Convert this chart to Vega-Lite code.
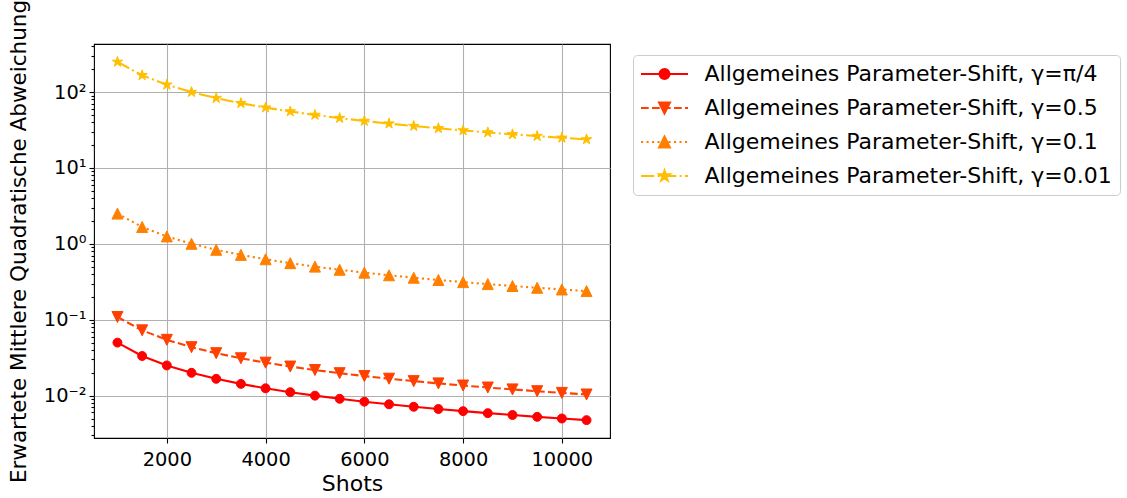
{
  "$schema": "https://vega.github.io/schema/vega-lite/v6.json",
  "width": 516,
  "height": 394,
  "autosize": {"type": "none"},
  "padding": {"left": 94, "top": 44, "right": 517, "bottom": 60},
  "background": "white",
  "config": {
    "view": {"stroke": "black", "strokeWidth": 1.1},
    "font": "DejaVu Sans",
    "axis": {
      "domain": false,
      "tickColor": "black",
      "tickWidth": 1.1,
      "labelColor": "black",
      "titleColor": "black",
      "labelFont": "DejaVu Sans",
      "titleFont": "DejaVu Sans",
      "labelFontSize": 19.4,
      "titleFontSize": 22,
      "titleFontWeight": "normal",
      "gridColor": "#b0b0b0",
      "gridWidth": 1.1
    },
    "legend": {
      "orient": "none",
      "legendX": 539,
      "legendY": 11,
      "padding": 8,
      "strokeColor": "#cccccc",
      "fillColor": "white",
      "cornerRadius": 4,
      "labelFont": "DejaVu Sans",
      "labelFontSize": 22,
      "labelColor": "black",
      "labelLimit": 1000,
      "rowPadding": 12,
      "symbolSize": 100,
      "symbolStrokeWidth": 2,
      "symbolOpacity": 1,
      "symbolOffset": 12.5,
      "labelOffset": 29
    }
  },
  "data": {
    "values": [
      {"shots": 1000, "mse": 0.05, "gamma": "π/4"},
      {"shots": 1500, "mse": 0.03333, "gamma": "π/4"},
      {"shots": 2000, "mse": 0.025, "gamma": "π/4"},
      {"shots": 2500, "mse": 0.02, "gamma": "π/4"},
      {"shots": 3000, "mse": 0.01667, "gamma": "π/4"},
      {"shots": 3500, "mse": 0.01429, "gamma": "π/4"},
      {"shots": 4000, "mse": 0.0125, "gamma": "π/4"},
      {"shots": 4500, "mse": 0.01111, "gamma": "π/4"},
      {"shots": 5000, "mse": 0.01, "gamma": "π/4"},
      {"shots": 5500, "mse": 0.00909, "gamma": "π/4"},
      {"shots": 6000, "mse": 0.00833, "gamma": "π/4"},
      {"shots": 6500, "mse": 0.00769, "gamma": "π/4"},
      {"shots": 7000, "mse": 0.00714, "gamma": "π/4"},
      {"shots": 7500, "mse": 0.00667, "gamma": "π/4"},
      {"shots": 8000, "mse": 0.00625, "gamma": "π/4"},
      {"shots": 8500, "mse": 0.00588, "gamma": "π/4"},
      {"shots": 9000, "mse": 0.00556, "gamma": "π/4"},
      {"shots": 9500, "mse": 0.00526, "gamma": "π/4"},
      {"shots": 10000, "mse": 0.005, "gamma": "π/4"},
      {"shots": 10500, "mse": 0.00476, "gamma": "π/4"},
      {"shots": 1000, "mse": 0.1088, "gamma": "0.5"},
      {"shots": 1500, "mse": 0.07253, "gamma": "0.5"},
      {"shots": 2000, "mse": 0.0544, "gamma": "0.5"},
      {"shots": 2500, "mse": 0.04352, "gamma": "0.5"},
      {"shots": 3000, "mse": 0.03627, "gamma": "0.5"},
      {"shots": 3500, "mse": 0.03109, "gamma": "0.5"},
      {"shots": 4000, "mse": 0.0272, "gamma": "0.5"},
      {"shots": 4500, "mse": 0.02418, "gamma": "0.5"},
      {"shots": 5000, "mse": 0.02176, "gamma": "0.5"},
      {"shots": 5500, "mse": 0.01978, "gamma": "0.5"},
      {"shots": 6000, "mse": 0.01813, "gamma": "0.5"},
      {"shots": 6500, "mse": 0.01674, "gamma": "0.5"},
      {"shots": 7000, "mse": 0.01554, "gamma": "0.5"},
      {"shots": 7500, "mse": 0.01451, "gamma": "0.5"},
      {"shots": 8000, "mse": 0.0136, "gamma": "0.5"},
      {"shots": 8500, "mse": 0.0128, "gamma": "0.5"},
      {"shots": 9000, "mse": 0.01209, "gamma": "0.5"},
      {"shots": 9500, "mse": 0.01145, "gamma": "0.5"},
      {"shots": 10000, "mse": 0.01088, "gamma": "0.5"},
      {"shots": 10500, "mse": 0.01036, "gamma": "0.5"},
      {"shots": 1000, "mse": 2.508, "gamma": "0.1"},
      {"shots": 1500, "mse": 1.672, "gamma": "0.1"},
      {"shots": 2000, "mse": 1.254, "gamma": "0.1"},
      {"shots": 2500, "mse": 1.0032, "gamma": "0.1"},
      {"shots": 3000, "mse": 0.836, "gamma": "0.1"},
      {"shots": 3500, "mse": 0.7166, "gamma": "0.1"},
      {"shots": 4000, "mse": 0.627, "gamma": "0.1"},
      {"shots": 4500, "mse": 0.5573, "gamma": "0.1"},
      {"shots": 5000, "mse": 0.5016, "gamma": "0.1"},
      {"shots": 5500, "mse": 0.456, "gamma": "0.1"},
      {"shots": 6000, "mse": 0.418, "gamma": "0.1"},
      {"shots": 6500, "mse": 0.3858, "gamma": "0.1"},
      {"shots": 7000, "mse": 0.3583, "gamma": "0.1"},
      {"shots": 7500, "mse": 0.3344, "gamma": "0.1"},
      {"shots": 8000, "mse": 0.3135, "gamma": "0.1"},
      {"shots": 8500, "mse": 0.2951, "gamma": "0.1"},
      {"shots": 9000, "mse": 0.2787, "gamma": "0.1"},
      {"shots": 9500, "mse": 0.264, "gamma": "0.1"},
      {"shots": 10000, "mse": 0.2508, "gamma": "0.1"},
      {"shots": 10500, "mse": 0.2389, "gamma": "0.1"},
      {"shots": 1000, "mse": 250.0, "gamma": "0.01"},
      {"shots": 1500, "mse": 166.67, "gamma": "0.01"},
      {"shots": 2000, "mse": 125.0, "gamma": "0.01"},
      {"shots": 2500, "mse": 100.0, "gamma": "0.01"},
      {"shots": 3000, "mse": 83.33, "gamma": "0.01"},
      {"shots": 3500, "mse": 71.43, "gamma": "0.01"},
      {"shots": 4000, "mse": 62.5, "gamma": "0.01"},
      {"shots": 4500, "mse": 55.56, "gamma": "0.01"},
      {"shots": 5000, "mse": 50.0, "gamma": "0.01"},
      {"shots": 5500, "mse": 45.45, "gamma": "0.01"},
      {"shots": 6000, "mse": 41.67, "gamma": "0.01"},
      {"shots": 6500, "mse": 38.46, "gamma": "0.01"},
      {"shots": 7000, "mse": 35.71, "gamma": "0.01"},
      {"shots": 7500, "mse": 33.33, "gamma": "0.01"},
      {"shots": 8000, "mse": 31.25, "gamma": "0.01"},
      {"shots": 8500, "mse": 29.41, "gamma": "0.01"},
      {"shots": 9000, "mse": 27.78, "gamma": "0.01"},
      {"shots": 9500, "mse": 26.32, "gamma": "0.01"},
      {"shots": 10000, "mse": 25.0, "gamma": "0.01"},
      {"shots": 10500, "mse": 23.81, "gamma": "0.01"}
    ]
  },
  "encoding": {
    "x": {
      "field": "shots",
      "type": "quantitative",
      "scale": {"domain": [525, 10975], "nice": false, "zero": false},
      "axis": {
        "title": "Shots",
        "values": [2000, 4000, 6000, 8000, 10000],
        "format": "d",
        "tickSize": 5,
        "labelPadding": 7,
        "titlePadding": 5,
        "grid": true
      }
    },
    "y": {
      "field": "mse",
      "type": "quantitative",
      "scale": {"type": "log", "domain": [0.002767, 430.5], "nice": false},
      "axis": {
        "title": "Erwartete Mittlere Quadratische Abweichung",
        "titleFontSize": 21.5,
        "titlePadding": 13,
        "values": [0.003, 0.004, 0.005, 0.006, 0.007, 0.008, 0.009, 0.01, 0.02, 0.03, 0.04, 0.05, 0.06, 0.07, 0.08, 0.09, 0.1, 0.2, 0.3, 0.4, 0.5, 0.6, 0.7, 0.8, 0.9, 1, 2, 3, 4, 5, 6, 7, 8, 9, 10, 20, 30, 40, 50, 60, 70, 80, 90, 100, 200, 300, 400],
        "labelExpr": "abs(log(datum.value)/LN10 - round(log(datum.value)/LN10)) < 0.001 ? (datum.value < 0.05 ? '10⁻²' : datum.value < 0.5 ? '10⁻¹' : datum.value < 5 ? '10⁰' : datum.value < 50 ? '10¹' : '10²') : ''",
        "labelPadding": 3,
        "tickSize": {"condition": {"test": "abs(log(datum.value)/LN10 - round(log(datum.value)/LN10)) < 0.001", "value": 5}, "value": 3},
        "gridOpacity": {"condition": {"test": "abs(log(datum.value)/LN10 - round(log(datum.value)/LN10)) < 0.001", "value": 1}, "value": 0},
        "grid": true
      }
    }
  },
  "layer": [
    {
      "transform": [{"filter": {"field": "gamma", "equal": "π/4"}}],
      "layer": [
        {"mark": {"type": "line", "strokeWidth": 2.1, "color": "#ff0000"}},
        {"mark": {"type": "point", "shape": "circle", "filled": true, "size": 80, "color": "#ff0000", "stroke": "#ff0000", "strokeWidth": 1, "opacity": 1}}
      ]
    },
    {
      "transform": [{"filter": {"field": "gamma", "equal": "0.5"}}],
      "layer": [
        {"mark": {"type": "line", "strokeWidth": 2.1, "color": "#ff4000", "strokeDash": [7.7, 3.3]}},
        {"mark": {"type": "point", "shape": "M0,1L1,-1L-1,-1Z", "filled": true, "size": 121, "color": "#ff4000", "stroke": "#ff4000", "strokeWidth": 1, "opacity": 1}}
      ]
    },
    {
      "transform": [{"filter": {"field": "gamma", "equal": "0.1"}}],
      "layer": [
        {"mark": {"type": "line", "strokeWidth": 2.1, "color": "#ff8000", "strokeDash": [2.1, 3.4]}},
        {"mark": {"type": "point", "shape": "M0,-1L1,1L-1,1Z", "filled": true, "size": 121, "color": "#ff8000", "stroke": "#ff8000", "strokeWidth": 1, "opacity": 1}}
      ]
    },
    {
      "transform": [{"filter": {"field": "gamma", "equal": "0.01"}}],
      "layer": [
        {"mark": {"type": "line", "strokeWidth": 2.1, "color": "#ffbf00", "strokeDash": [13.3, 3.3, 2.1, 3.3]}},
        {"mark": {"type": "point", "shape": "M0,-1L0.2245,-0.309L0.951,-0.309L0.363,0.118L0.588,0.809L0,0.382L-0.588,0.809L-0.363,0.118L-0.951,-0.309L-0.2245,-0.309Z", "filled": true, "size": 121, "color": "#ffbf00", "stroke": "#ffbf00", "strokeWidth": 1, "opacity": 1}}
      ]
    },
    {
      "transform": [{"filter": "datum.shots < 0"}],
      "mark": {"type": "point", "filled": true, "strokeWidth": 2, "opacity": 1},
      "encoding": {
        "shape": {
          "field": "gamma",
          "type": "nominal",
          "scale": {"domain": ["π/4", "0.5", "0.1", "0.01"], "range": [
            "M-4.7,0H4.7M1,0A1,1 0 1,1 -1,0A1,1 0 1,1 1,0Z",
            "M-4.7,0H-3.16M-2.5,0H-0.96M-0.3,0H1.24M1.9,0H3.44M4.1,0H4.7M0,1.1L1.1,-1.1L-1.1,-1.1Z",
            "M-4.7,0H-4.28M-3.6,0H-3.18M-2.5,0H-2.08M-1.4,0H-0.98M-0.3,0H0.12M0.8,0H1.22M1.9,0H2.32M3,0H3.42M4.1,0H4.52M0,-1.1L1.1,1.1L-1.1,1.1Z",
            "M-4.7,0H-2.04M-1.38,0H-0.96M-0.3,0H2.36M3.02,0H3.44M4.1,0H4.7M0,-1.1L0.247,-0.34L1.046,-0.34L0.399,0.13L0.647,0.89L0,0.42L-0.647,0.89L-0.399,0.13L-1.046,-0.34L-0.247,-0.34Z"
          ]},
          "legend": {"title": null, "labelExpr": "'Allgemeines Parameter-Shift, γ=' + datum.label"}
        },
        "fill": {
          "field": "gamma",
          "type": "nominal",
          "scale": {"domain": ["π/4", "0.5", "0.1", "0.01"], "range": ["#ff0000", "#ff4000", "#ff8000", "#ffbf00"]},
          "legend": {"title": null, "labelExpr": "'Allgemeines Parameter-Shift, γ=' + datum.label"}
        },
        "stroke": {
          "field": "gamma",
          "type": "nominal",
          "scale": {"domain": ["π/4", "0.5", "0.1", "0.01"], "range": ["#ff0000", "#ff4000", "#ff8000", "#ffbf00"]},
          "legend": {"title": null, "labelExpr": "'Allgemeines Parameter-Shift, γ=' + datum.label"}
        }
      }
    }
  ]
}
